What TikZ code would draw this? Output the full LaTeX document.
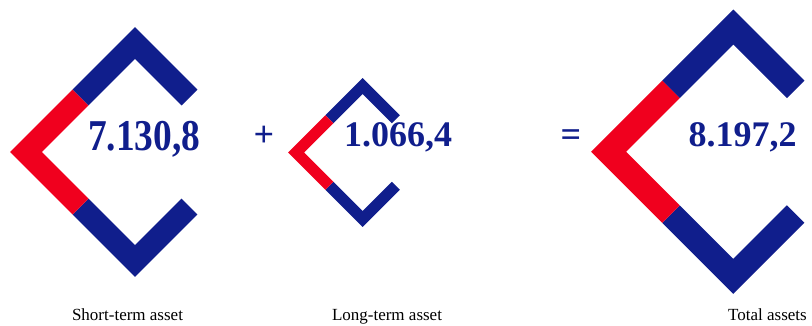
\documentclass[tikz,border=0pt]{standalone}
\usepackage{fontspec}
\setmainfont{Liberation Serif}
\definecolor{navy}{RGB}{16,30,140}
\definecolor{brightred}{RGB}{240,0,30}
\tikzset{
  bluearm/.style={draw=navy, line cap=butt, line join=miter},
  redarm/.style={draw=brightred, line cap=butt, line join=miter},
  num/.style={text=navy, anchor=base west, inner sep=0pt, font=\bfseries\fontsize{36}{36}\selectfont},
  bignum/.style={text=navy, anchor=base west, inner sep=0pt, font=\bfseries\fontsize{44}{44}\selectfont},
  op/.style={text=navy, anchor=base, inner sep=0pt, font=\bfseries\fontsize{36}{36}\selectfont},
  caption/.style={text=black, anchor=base, inner sep=0pt, font=\fontsize{17}{17}\selectfont}
}
% #1 cx, #2 cy, #3 half diagonal of centre line, #4 stroke width
\newcommand{\assetshape}[4]{%
  \draw[bluearm, line width=#4pt] (#1-#3/2,#2-#3/2) -- (#1,#2-#3) -- (#1+#3/2,#2-#3/2);
  \draw[bluearm, line width=#4pt] (#1-#3/2,#2+#3/2) -- (#1,#2+#3) -- (#1+#3/2,#2+#3/2);
  \draw[redarm, line width=#4pt] (#1-#3/2,#2-#3/2) -- (#1-#3,#2) -- (#1-#3/2,#2+#3/2);
}
\begin{document}
\begin{tikzpicture}[x=1pt, y=-1pt]
  \useasboundingbox (0,0) rectangle (812,325);
  % shapes
  \assetshape{135}{152}{109}{22.6}
  \assetshape{362.7}{152.5}{66.5}{11.3}
  \assetshape{733.3}{151.7}{124.7}{24.7}
  % numbers
  \node[bignum] (st) at (87.8,150) {\scalebox{0.85}[1]{7.130,8}};
  \node[num] (lt) at (344,146) {1.066,4};
  \node[num] (ta) at (688.3,146) {8.197,2};
  \node[op] (plus) at (264,146) {+};
  \node[op] (eq) at (571,146) {=};
  % captions
  \node[caption] (stc) at (127.5,320.5) {Short-term asset};
  \node[caption] (ltc) at (387,320.5) {Long-term asset};
  \node[caption] (tac) at (767.5,320.5) {Total assets};
\end{tikzpicture}
\end{document}
